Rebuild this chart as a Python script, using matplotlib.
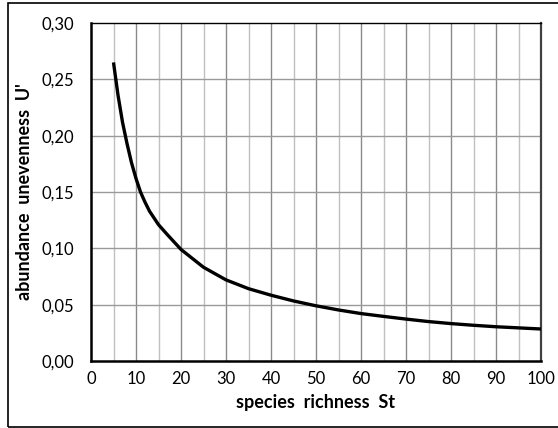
import numpy as np
import matplotlib
matplotlib.use('Agg')
import matplotlib.pyplot as plt
from matplotlib.patches import Rectangle

plt.rcParams['font.family'] = ['Lato', 'DejaVu Sans']

richness = [5, 6, 7, 8, 9, 10, 11, 12, 13, 15, 17, 20, 25, 30, 35, 40, 45, 50,
            55, 60, 65, 70, 75, 80, 85, 90, 95, 100]
unevenness = [0.265, 0.236, 0.212, 0.193, 0.176, 0.162, 0.150, 0.141, 0.133,
              0.121, 0.112, 0.0990, 0.0832, 0.0720, 0.0642, 0.0584, 0.0533,
              0.0490, 0.0453, 0.0421, 0.0396, 0.0372, 0.0350, 0.0332, 0.0317,
              0.0304, 0.0294, 0.0284]

x_ticks = list(range(0, 101, 10))
y_ticks = [0.00, 0.05, 0.10, 0.15, 0.20, 0.25, 0.30]
y_labels = ['%.2f' % v for v in y_ticks]
y_labels = [s.replace('.', ',') for s in y_labels]

fig = plt.figure(figsize=(5.58, 4.28), dpi=100)
ax = fig.add_axes([91/558, 1 - 361/428, 450/558, 338/428])

# minor verticals every 5, major every 10, horizontals every 0.05
for xv in range(5, 100, 10):
    ax.axvline(xv, color='#c0c0c0', lw=1.0, zorder=1)
for xv in range(10, 100, 10):
    ax.axvline(xv, color='#8a8a8a', lw=1.0, zorder=1)
for yv in y_ticks[1:-1]:
    ax.axhline(yv, color='#9a9a9a', lw=1.0, zorder=1)

ax.plot(richness, unevenness, color='black', lw=2.4, zorder=3,
        solid_capstyle='butt', solid_joinstyle='round')

ax.set_xlim(0, 100)
ax.set_ylim(0, 0.30)
ax.set_xticks(x_ticks)
ax.set_yticks(y_ticks)
ax.set_yticklabels(y_labels)
ax.tick_params(length=0, labelsize=12, colors='black')
ax.tick_params(axis='y', pad=12)
ax.tick_params(axis='x', pad=7)

for side in ['left', 'bottom']:
    ax.spines[side].set_linewidth(1.8)
    ax.spines[side].set_color('black')
ax.spines['top'].set_linewidth(1.0)
ax.spines['top'].set_color('black')
ax.spines['right'].set_linewidth(1.6)
ax.spines['right'].set_color('#404040')

ax.set_xlabel('species  richness  St', fontsize=13, fontweight='bold', labelpad=5)
ax.set_ylabel("abundance  unevenness  U'", fontsize=13, fontweight='bold', labelpad=6)

# outer chart border
fig.patches.append(Rectangle((8/558, 1/428), 560/558, 424/428, transform=fig.transFigure,
                             fill=False, edgecolor='black', lw=1.2))

fig.savefig('out.png', dpi=100)
